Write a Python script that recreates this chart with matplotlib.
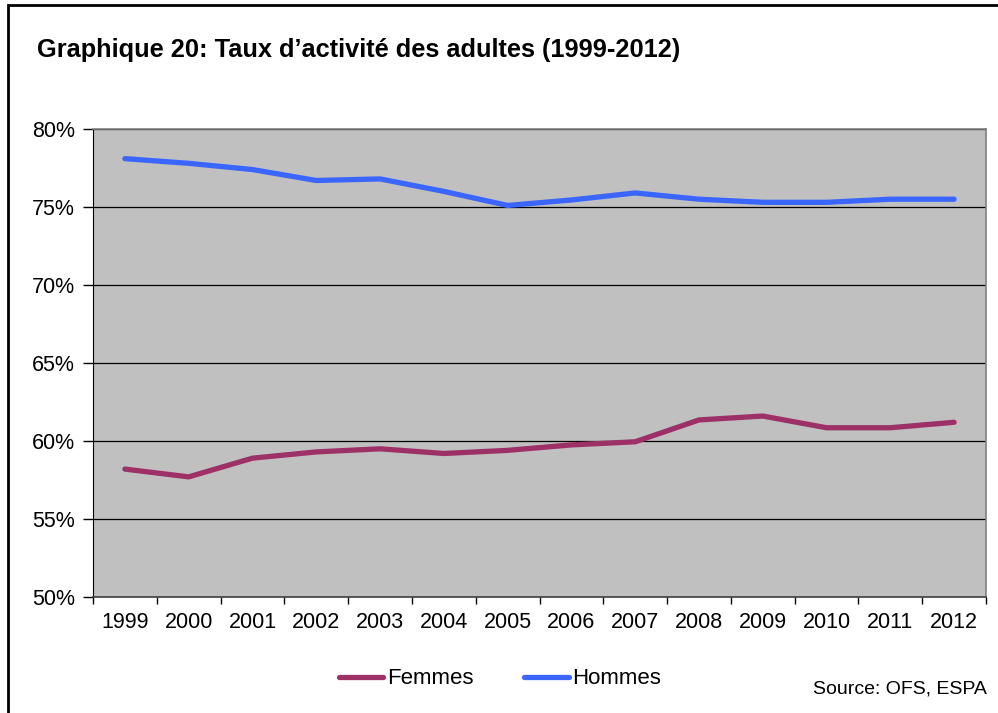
import matplotlib.pyplot as plt
from matplotlib.patches import Rectangle
from matplotlib.ticker import FixedLocator, PercentFormatter

plt.rcParams['font.family'] = ['Liberation Sans', 'DejaVu Sans']

years = ['1999', '2000', '2001', '2002', '2003', '2004', '2005',
         '2006', '2007', '2008', '2009', '2010', '2011', '2012']
femmes = [58.2, 57.7, 58.9, 59.3, 59.5, 59.2, 59.4,
          59.75, 59.95, 61.35, 61.6, 60.85, 60.85, 61.2]
hommes = [78.1, 77.8, 77.4, 76.7, 76.8, 76.0, 75.1,
          75.45, 75.9, 75.5, 75.3, 75.3, 75.5, 75.5]

fig = plt.figure(figsize=(9.98, 7.13), dpi=100)
ax = fig.add_axes([93 / 998, 1 - 597 / 713, (986 - 93) / 998, (597 - 129) / 713])

x = range(len(years))
ax.set_facecolor('#C0C0C0')
ax.plot(x, femmes, color='#9E3068', lw=3.8, solid_capstyle='round', label='Femmes', zorder=3)
ax.plot(x, hommes, color='#3A66FF', lw=3.8, solid_capstyle='round', label='Hommes', zorder=3)

ax.set_xlim(-0.5, len(years) - 0.5)
ax.set_ylim(50, 80)
ax.set_yticks(range(50, 81, 5))
ax.yaxis.set_major_formatter(PercentFormatter(decimals=0))
ax.grid(axis='y', color='black', lw=0.9, zorder=1)
ax.set_axisbelow(True)

ax.set_xticks(list(x))
ax.set_xticklabels(years)
ax.xaxis.set_minor_locator(FixedLocator([i - 0.5 for i in range(len(years) + 1)]))
ax.tick_params(axis='x', which='major', length=0, pad=11, labelsize=15.5)
ax.tick_params(axis='x', which='minor', length=5, width=1, color='black')
ax.tick_params(axis='y', length=7, width=1, pad=6, labelsize=15.5)

for side in ['top', 'right']:
    ax.spines[side].set_color('#808080')
    ax.spines[side].set_linewidth(1.2)
ax.spines['left'].set_color('black')
ax.spines['bottom'].set_color('#404040')
ax.spines['bottom'].set_linewidth(1.2)

fig.text(37 / 998, 1 - 50 / 713, 'Graphique 20: Taux d\u2019activit\u00e9 des adultes (1999-2012)',
         fontsize=18.3, fontweight='bold', va='center', ha='left')

fig.legend(loc='center', bbox_to_anchor=(500 / 998, 1 - 679 / 713), ncol=2, frameon=False,
           fontsize=16, handlelength=2.0, handletextpad=0.15, columnspacing=2.3)

fig.text(987 / 998, 1 - 689 / 713, 'Source: OFS, ESPA', fontsize=14, ha='right', va='center')

fig.patches.append(Rectangle((8 / 998, -0.1), 1.2, 1.1 - 5 / 713, transform=fig.transFigure,
                             fill=False, edgecolor='black', lw=2))

fig.savefig('out.png', dpi=100)
